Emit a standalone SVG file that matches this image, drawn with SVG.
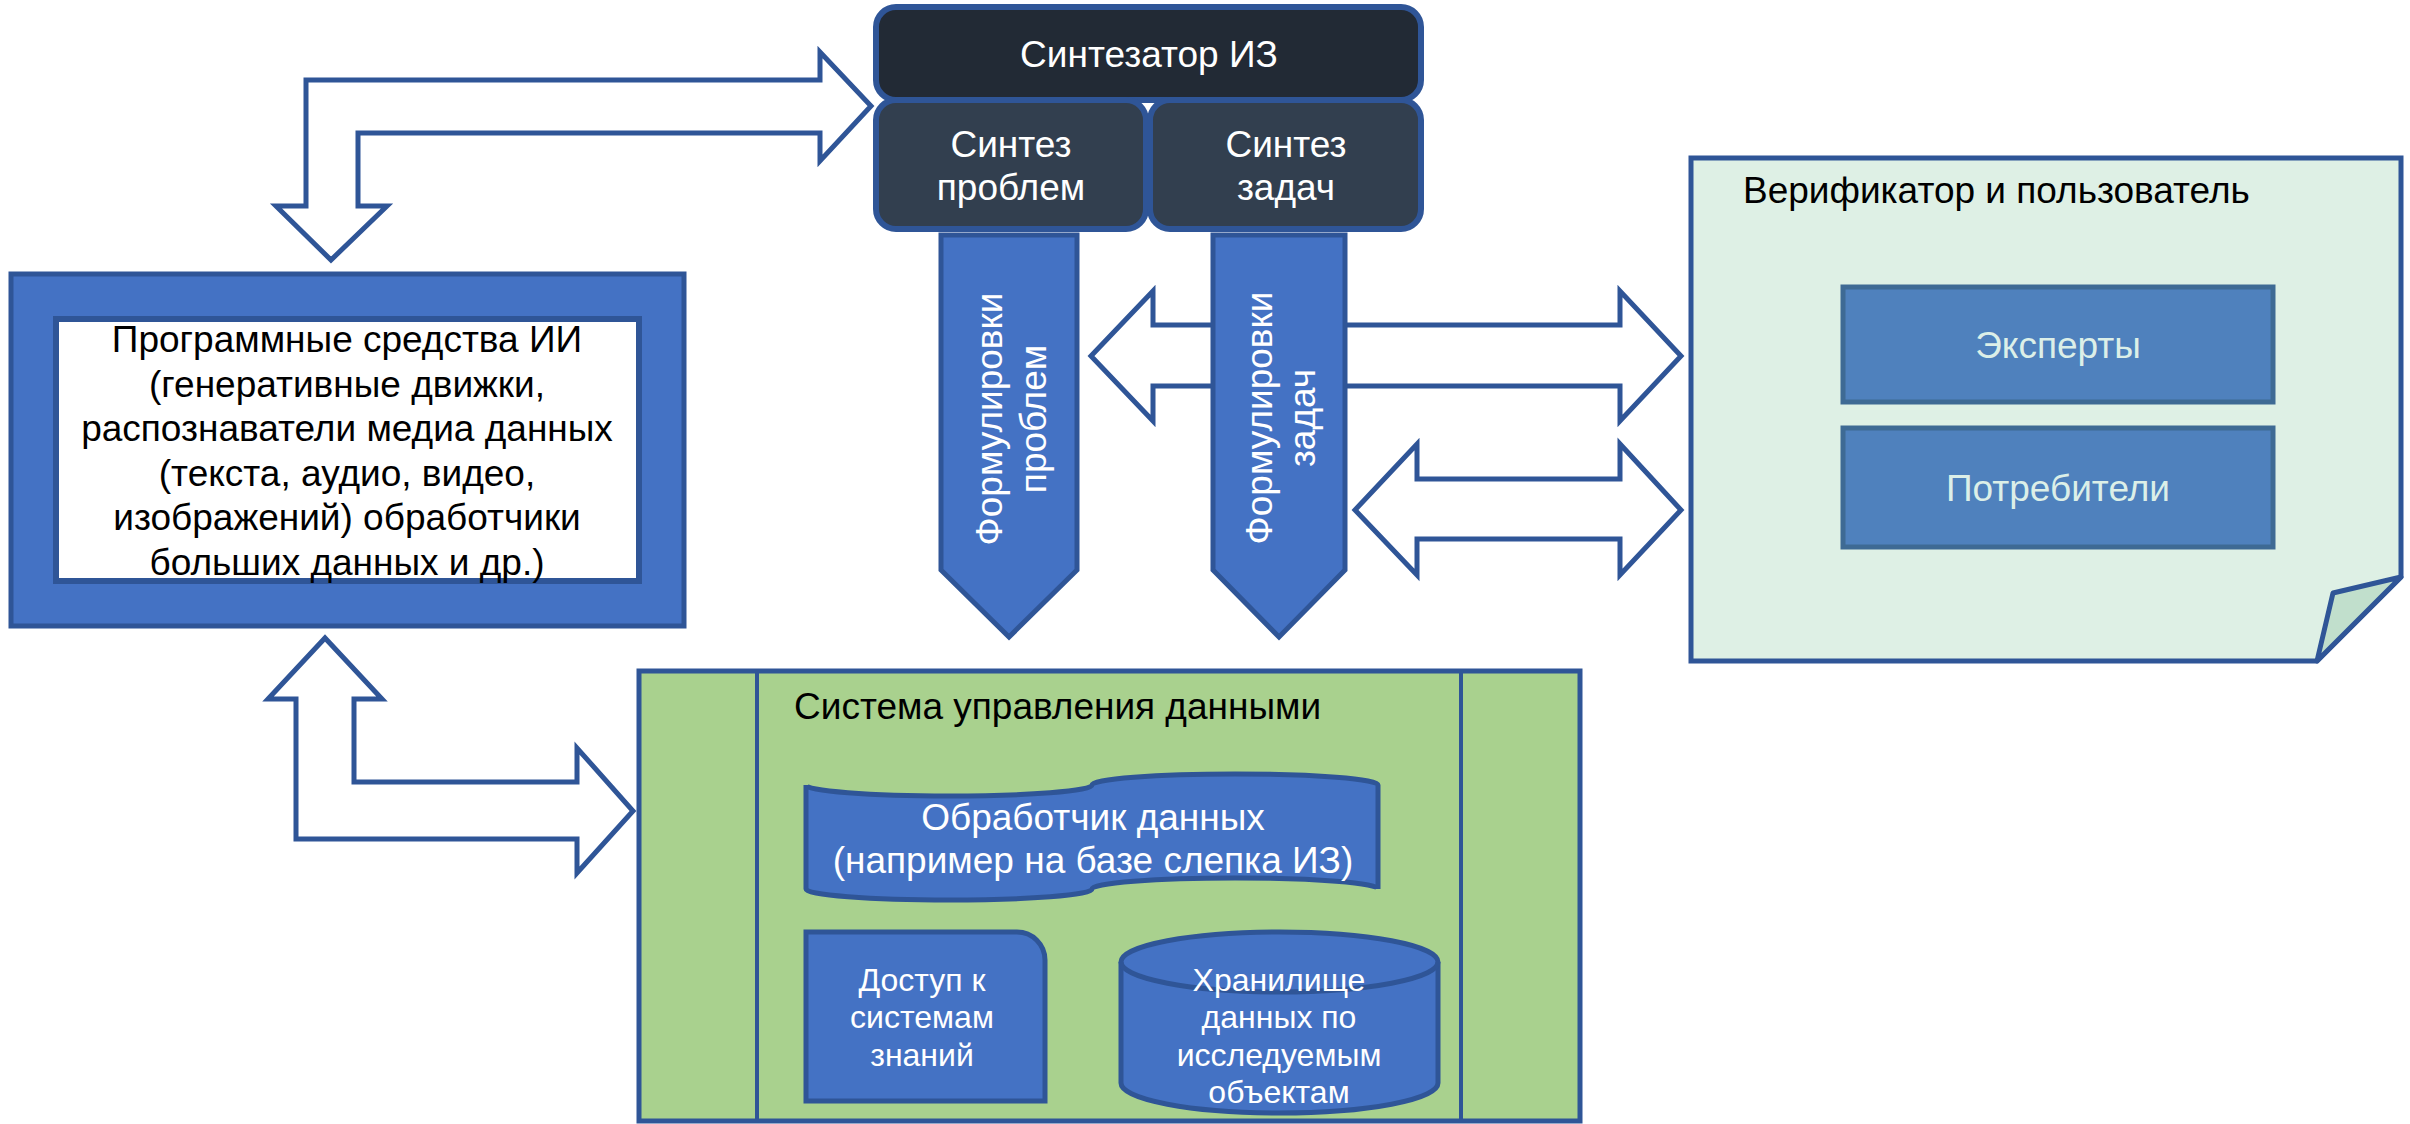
<svg xmlns="http://www.w3.org/2000/svg" width="2410" height="1124" viewBox="0 0 2410 1124">
<style>
text{font-family:"Liberation Sans",Arial,sans-serif;font-size:37px}
.ctr{text-anchor:middle}
.w{fill:#ffffff}
.k{fill:#000000}
.lt{fill:#dcefe8}
.arr{fill:#ffffff;stroke:#2f5597;stroke-width:5;stroke-linejoin:miter}
.blue{fill:#4472c4;stroke:#2f5597;stroke-width:5}
.synth{fill:#222a35;stroke:#2f5597;stroke-width:6}
.sub{fill:#323f4f;stroke:#2f5597;stroke-width:6}
.pers{fill:#4f81bd;stroke:#3e6a94;stroke-width:5}
</style>
<rect width="2410" height="1124" fill="#ffffff"/>

<g id="connectors">
<path class="arr" d="M306,206 L306,80 L820,80 L820,52 L871,106 L820,161 L820,133 L358,133 L358,206 L387,206 L331,260 L276,206 Z"/>
<path class="arr" d="M296,839 L296,699 L268,699 L325,638 L382,699 L354,699 L354,782 L577,782 L577,748 L633,811 L577,873 L577,839 Z"/>
<path class="arr" d="M1091,356 L1153,291 L1153,325 L1620,325 L1620,291 L1681,356 L1620,421 L1620,386 L1153,386 L1153,421 Z"/>
<path class="arr" d="M1355,510 L1417,444 L1417,479 L1620,479 L1620,444 L1681,510 L1620,575 L1620,539 L1417,539 L1417,575 Z"/>
</g>

<g id="ai-tools">
<rect x="11" y="274" width="673" height="352" fill="#4472c4" stroke="#2f5597" stroke-width="5"/>
<rect x="56" y="319" width="583" height="262" fill="#ffffff" stroke="#2f5597" stroke-width="6"/>
<text class="ctr k"><tspan x="347" y="352">Программные средства ИИ</tspan><tspan x="347" y="397">(генеративные движки,</tspan><tspan x="347" y="441">распознаватели медиа данных</tspan><tspan x="347" y="486">(текста, аудио, видео,</tspan><tspan x="347" y="530">изображений) обработчики</tspan><tspan x="347" y="575">больших данных и др.)</tspan></text>
</g>

<g id="synthesizer">
<rect class="synth" x="876" y="7" width="545" height="93" rx="20"/>
<text class="ctr w" x="1149" y="67">Синтезатор ИЗ</text>
</g>
<g id="synth-problems">
<rect class="sub" x="876" y="100" width="270" height="129" rx="20"/>
<text class="ctr w"><tspan x="1011" y="157">Синтез</tspan><tspan x="1011" y="200">проблем</tspan></text>
</g>
<g id="synth-tasks">
<rect class="sub" x="1150" y="100" width="271" height="129" rx="20"/>
<text class="ctr w"><tspan x="1286" y="157">Синтез</tspan><tspan x="1286" y="200">задач</tspan></text>
</g>

<g id="problem-formulations">
<path class="blue" d="M941,235 L1077,235 L1077,570 L1009,637 L941,570 Z"/>
<text class="ctr w" transform="translate(1009,419) rotate(-90)"><tspan x="0" y="-7">Формулировки</tspan><tspan x="0" y="37">проблем</tspan></text>
</g>
<g id="task-formulations">
<path class="blue" d="M1213,235 L1345,235 L1345,570 L1279,637 L1213,570 Z"/>
<text class="ctr w" transform="translate(1279,418) rotate(-90)"><tspan x="0" y="-7">Формулировки</tspan><tspan x="0" y="36">задач</tspan></text>
</g>

<g id="verifier">
<path d="M1691,158 L2401,158 L2401,577 L2317,661 L1691,661 Z" fill="#def0e5" stroke="#2f5597" stroke-width="5"/>
<path d="M2401,577 L2333,593 L2317,661 Z" fill="#c1dfcc" stroke="#2f5597" stroke-width="5" stroke-linejoin="round"/>
<text class="k" x="1743" y="203">Верификатор и пользователь</text>
</g>
<g id="experts">
<rect class="pers" x="1843" y="287" width="430" height="115"/>
<text class="ctr lt" x="2058" y="358">Эксперты</text>
</g>
<g id="consumers">
<rect class="pers" x="1843" y="428" width="430" height="119"/>
<text class="ctr lt" x="2058" y="501">Потребители</text>
</g>

<g id="data-management">
<rect x="639" y="671" width="941" height="450" fill="#a9d18e" stroke="#2f5597" stroke-width="5"/>
<line x1="757" y1="671" x2="757" y2="1121" stroke="#2f5597" stroke-width="4"/>
<line x1="1461" y1="671" x2="1461" y2="1121" stroke="#2f5597" stroke-width="4"/>
<text class="k" x="794" y="719">Система управления данными</text>
</g>

<g id="data-processor">
<path class="blue" d="M806,785 A143,11 0 0 0 1092,785 A143,11 0 0 1 1378,785 L1378,889 A143,11 0 0 0 1092,889 A143,11 0 0 1 806,889 Z"/>
<text class="ctr w"><tspan x="1093" y="830">Обработчик данных</tspan><tspan x="1093" y="873">(например на базе слепка ИЗ)</tspan></text>
</g>

<g id="knowledge-access">
<path class="blue" d="M806,932 L1017,932 A28,28 0 0 1 1045,960 L1045,1101 L806,1101 Z"/>
<text class="ctr w" style="font-size:32px"><tspan x="922" y="991">Доступ к</tspan><tspan x="922" y="1028">системам</tspan><tspan x="922" y="1066">знаний</tspan></text>
</g>

<g id="object-storage">
<path class="blue" d="M1121,962 A158.5,30 0 0 1 1438,962 L1438,1083 A158.5,30 0 0 1 1121,1083 Z"/>
<path d="M1121,962 A158.5,30 0 0 0 1438,962" fill="none" stroke="#2f5597" stroke-width="5"/>
<text class="ctr w" style="font-size:32px"><tspan x="1279" y="991">Хранилище</tspan><tspan x="1279" y="1028">данных по</tspan><tspan x="1279" y="1066">исследуемым</tspan><tspan x="1279" y="1103">объектам</tspan></text>
</g>
</svg>
